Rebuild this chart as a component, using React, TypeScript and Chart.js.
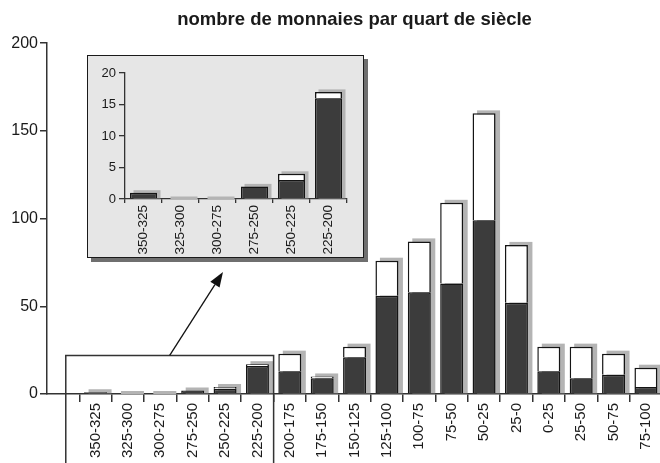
import React, { useEffect, useRef } from 'react';
import { Chart, registerables } from 'chart.js';

Chart.register(...registerables);

const TITLE = 'nombre de monnaies par quart de siècle';
const categories = [
  '350-325', '325-300', '300-275', '275-250', '250-225', '225-200',
  '200-175', '175-150', '150-125', '125-100', '100-75', '75-50',
  '50-25', '25-0', '0-25', '25-50', '50-75', '75-100',
];
// lower (dark) part of each bar
const darkValues = [1, 0, 0, 2, 3, 16, 13, 9, 21, 56, 58, 63, 99, 52, 13, 9, 11, 4];
// upper (white) part of each bar
const lightValues = [0, 0, 0, 0, 1, 1, 10, 1, 6, 20, 29, 46, 61, 33, 14, 18, 12, 11];
const yTicks = [0, 50, 100, 150, 200];
const insetTicks = [0, 5, 10, 15, 20];
const INSET_COUNT = 6;
const ZOOM_TOP_VALUE = 22;

const FONT = "'Liberation Sans', Arial, Helvetica, sans-serif";
const TEXT = '#1a1a1a';
const AXIS = '#333333';
const DARK = '#3c3c3c';
const BORDER = '#141414';
const SHADOW = '#b4b4b4';

const INSET_BOX = { left: 87, top: 55, width: 277, height: 203 };

function shadowPlugin(dx: number, dy: number) {
  return {
    id: 'barShadow',
    beforeDatasetsDraw(chart: any) {
      const m0 = chart.getDatasetMeta(0);
      const m1 = chart.getDatasetMeta(1);
      const d0 = chart.data.datasets[0].data;
      const ctx = chart.ctx;
      ctx.save();
      ctx.fillStyle = SHADOW;
      m0.data.forEach((el: any, i: number) => {
        if (d0[i] === null || d0[i] === undefined) return;
        const a = el.getProps(['x', 'y', 'base', 'width'], true);
        const b = m1.data[i].getProps(['y'], true);
        if (!isFinite(a.x) || !isFinite(a.y)) return;
        const top = Math.min(a.y, isFinite(b.y) ? b.y : a.y);
        const left = a.x - a.width / 2 + dx;
        ctx.fillRect(left, top + dy, a.width, a.base - (top + dy));
      });
      ctx.restore();
    },
  };
}

const zoomPlugin = {
  id: 'zoomMarker',
  afterDraw(chart: any) {
    const x = chart.scales.x;
    const y = chart.scales.y;
    const ctx = chart.ctx;
    const catW = x.getPixelForValue(1) - x.getPixelForValue(0);
    const left = x.getPixelForValue(0) + 0.08 * catW;
    const right = x.getPixelForValue(INSET_COUNT) + catW / 2;
    const top = y.getPixelForValue(ZOOM_TOP_VALUE);
    const bottom = chart.height;
    ctx.save();
    ctx.strokeStyle = AXIS;
    ctx.lineWidth = 1.5;
    ctx.beginPath();
    ctx.moveTo(left, bottom);
    ctx.lineTo(left, top);
    ctx.lineTo(right, top);
    ctx.lineTo(right, bottom);
    ctx.stroke();
    // arrow
    const sx = (left + right) / 2;
    const sy = top;
    const tx = 223;
    const ty = INSET_BOX.top + INSET_BOX.height + 14;
    const ang = Math.atan2(ty - sy, tx - sx);
    const headLen = 15;
    const headW = 5.5;
    const bx = tx - headLen * Math.cos(ang);
    const by = ty - headLen * Math.sin(ang);
    ctx.lineWidth = 1.3;
    ctx.strokeStyle = '#111';
    ctx.beginPath();
    ctx.moveTo(sx, sy);
    ctx.lineTo(bx, by);
    ctx.stroke();
    ctx.fillStyle = '#111';
    ctx.beginPath();
    ctx.moveTo(tx, ty);
    ctx.lineTo(bx + headW * Math.sin(ang), by - headW * Math.cos(ang));
    ctx.lineTo(bx - headW * Math.sin(ang), by + headW * Math.cos(ang));
    ctx.closePath();
    ctx.fill();
    ctx.restore();
  },
};

export default function App() {
  const mainRef = useRef<HTMLCanvasElement | null>(null);
  const insetRef = useRef<HTMLCanvasElement | null>(null);

  useEffect(() => {
    const labels = ['', ...categories];
    const main = new Chart(mainRef.current as HTMLCanvasElement, {
      type: 'bar',
      data: {
        labels,
        datasets: [
          {
            data: [null, ...darkValues] as any,
            backgroundColor: DARK,
            borderColor: BORDER,
            borderWidth: 1.5,
            barPercentage: 0.71,
            categoryPercentage: 1,
          },
          {
            data: [null, ...lightValues] as any,
            backgroundColor: '#ffffff',
            borderColor: BORDER,
            borderWidth: 1.5,
            barPercentage: 0.71,
            categoryPercentage: 1,
          },
        ],
      },
      options: {
        animation: false,
        responsive: false,
        layout: { padding: 0 },
        plugins: {
          legend: { display: false },
          tooltip: { enabled: false },
          title: {
            display: true,
            text: TITLE,
            fullSize: false,
            color: TEXT,
            font: { family: FONT, size: 18.5, weight: 'bold', lineHeight: 1.2 },
            padding: { top: 9, bottom: 12 },
          },
        },
        scales: {
          x: {
            stacked: true,
            offset: true,
            grid: {
              offset: true,
              drawOnChartArea: false,
              tickLength: 8,
              lineWidth: 1.5,
              color: (c: any) => (c.index === 0 ? 'rgba(0,0,0,0)' : AXIS),
            },
            border: { color: AXIS, width: 1.5 },
            ticks: {
              autoSkip: false,
              maxRotation: 90,
              minRotation: 90,
              padding: 1,
              color: TEXT,
              font: { family: FONT, size: 15 },
            },
            afterFit: (s: any) => {
              s.height = 69;
            },
          },
          y: {
            stacked: true,
            min: yTicks[0],
            max: yTicks[yTicks.length - 1],
            ticks: {
              stepSize: yTicks[1] - yTicks[0],
              padding: 2,
              color: TEXT,
              font: { family: FONT, size: 16 },
            },
            grid: { drawOnChartArea: false, tickLength: 7, lineWidth: 1.5, color: AXIS },
            border: { color: AXIS, width: 1.5 },
            afterFit: (s: any) => {
              s.width = 47;
            },
          },
        },
      } as any,
      plugins: [shadowPlugin(4.5, -3), zoomPlugin],
    });

    const inset = new Chart(insetRef.current as HTMLCanvasElement, {
      type: 'bar',
      data: {
        labels: categories.slice(0, INSET_COUNT),
        datasets: [
          {
            data: darkValues.slice(0, INSET_COUNT),
            backgroundColor: DARK,
            borderColor: BORDER,
            borderWidth: 1.5,
            barPercentage: 0.73,
            categoryPercentage: 1,
          },
          {
            data: lightValues.slice(0, INSET_COUNT),
            backgroundColor: '#ffffff',
            borderColor: BORDER,
            borderWidth: 1.5,
            barPercentage: 0.73,
            categoryPercentage: 1,
          },
        ],
      },
      options: {
        animation: false,
        responsive: false,
        layout: { padding: { top: 17, right: 16, left: 0, bottom: 0 } },
        plugins: {
          legend: { display: false },
          tooltip: { enabled: false },
          title: { display: false },
        },
        scales: {
          x: {
            stacked: true,
            offset: true,
            grid: { offset: true, drawOnChartArea: false, tickLength: 4, lineWidth: 1.3, color: AXIS },
            border: { color: AXIS, width: 1.3 },
            ticks: {
              autoSkip: false,
              maxRotation: 90,
              minRotation: 90,
              padding: 2,
              color: TEXT,
              font: { family: FONT, size: 13.5 },
            },
            afterFit: (s: any) => {
              s.height = 58;
            },
          },
          y: {
            stacked: true,
            min: insetTicks[0],
            max: insetTicks[insetTicks.length - 1],
            ticks: {
              stepSize: insetTicks[1] - insetTicks[0],
              padding: 3,
              color: TEXT,
              font: { family: FONT, size: 13 },
            },
            grid: { drawOnChartArea: false, tickLength: 6, lineWidth: 1.3, color: AXIS },
            border: { color: AXIS, width: 1.3 },
            afterFit: (s: any) => {
              s.width = 37;
            },
          },
        },
      } as any,
      plugins: [shadowPlugin(3.5, -2.5)],
    });

    return () => {
      main.destroy();
      inset.destroy();
    };
  }, []);

  return (
    <div
      style={{
        position: 'fixed',
        left: 0,
        top: 0,
        width: 660,
        height: 463,
        overflow: 'hidden',
        background: '#ffffff',
      }}
    >
      <canvas ref={mainRef} width={665} height={463} style={{ display: 'block' }} />
      <div
        style={{
          position: 'absolute',
          left: INSET_BOX.left,
          top: INSET_BOX.top,
          width: INSET_BOX.width,
          height: INSET_BOX.height,
          boxSizing: 'border-box',
          border: '1px solid #1a1a1a',
          boxShadow: '4px 4px 0 #6f6f6f',
          background: '#e6e6e6',
        }}
      >
        <canvas
          ref={insetRef}
          width={INSET_BOX.width - 2}
          height={INSET_BOX.height - 2}
          style={{ display: 'block' }}
        />
      </div>
    </div>
  );
}
